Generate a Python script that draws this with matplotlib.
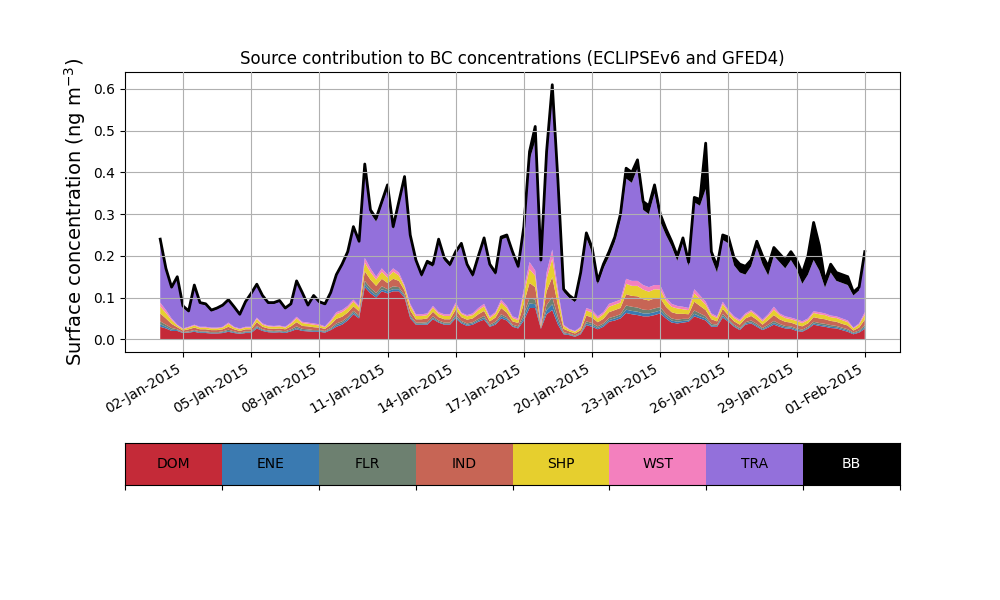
import numpy as np
import pandas as pd
import matplotlib
matplotlib.use('Agg')
import matplotlib.pyplot as plt
import matplotlib.dates as mdates

# 6-hourly time steps, 1 Jan 2015 00:00 -> 1 Feb 2015 00:00
times = pd.date_range('2015-01-01 00:00', periods=125, freq='6h')

# contributions, in 1e-3 ng m-3
DOM = [30, 26, 20, 20, 15, 16, 18, 15, 15, 14,
       14, 15, 18, 15, 13, 15, 15, 26, 20, 17,
       16, 17, 15, 19, 24, 20, 19, 18, 18, 16,
       22, 30, 35, 45, 60, 50, 125, 110, 100, 115,
       110, 115, 115, 100, 50, 35, 35, 35, 48, 40,
       35, 35, 50, 38, 32, 35, 42, 47, 30, 35,
       50, 45, 30, 26, 45, 75, 75, 25, 60, 70,
       35, 12, 10, 6, 12, 34, 30, 24, 30, 42,
       45, 50, 63, 60, 58, 55, 55, 58, 62, 50,
       40, 38, 40, 42, 55, 50, 45, 30, 30, 52,
       42, 30, 22, 35, 38, 30, 22, 28, 35, 30,
       26, 25, 20, 18, 25, 35, 32, 30, 27, 26,
       22, 18, 12, 16, 25]
ENE = [6, 4, 3, 2, 1, 1, 2, 2, 2, 1,
       1, 2, 2, 2, 1, 2, 2, 3, 2, 2,
       2, 2, 2, 2, 3, 2, 2, 2, 2, 2,
       2, 4, 4, 4, 4, 3, 7, 6, 5, 5,
       5, 5, 5, 3, 4, 2, 2, 3, 3, 2,
       2, 2, 4, 3, 3, 3, 3, 4, 2, 3,
       5, 4, 2, 2, 7, 11, 9, 1, 10, 14,
       8, 2, 2, 1, 2, 4, 4, 3, 4, 4,
       5, 5, 8, 8, 8, 7, 7, 7, 7, 5,
       5, 4, 4, 3, 6, 5, 5, 3, 2, 4,
       3, 2, 2, 3, 3, 3, 2, 3, 4, 3,
       3, 3, 3, 2, 2, 3, 3, 3, 3, 3,
       3, 3, 2, 2, 4]
FLR = [7, 5, 4, 2, 1, 2, 2, 2, 2, 2,
       2, 2, 3, 2, 2, 2, 2, 3, 2, 2,
       2, 2, 2, 3, 4, 3, 3, 2, 2, 2,
       3, 4, 4, 4, 4, 4, 8, 7, 6, 7,
       5, 7, 5, 4, 4, 3, 3, 3, 4, 3,
       3, 3, 5, 3, 3, 3, 4, 5, 3, 4,
       5, 4, 3, 3, 9, 13, 11, 1, 12, 17,
       10, 3, 2, 2, 2, 5, 5, 4, 4, 5,
       5, 5, 10, 10, 10, 9, 8, 9, 8, 6,
       5, 5, 5, 4, 8, 7, 5, 4, 3, 5,
       3, 3, 3, 3, 4, 4, 3, 4, 5, 4,
       3, 3, 3, 3, 3, 4, 4, 4, 4, 3,
       3, 3, 2, 3, 5]
IND = [19, 15, 10, 5, 4, 5, 6, 5, 5, 5,
       5, 5, 7, 5, 4, 5, 5, 9, 6, 5,
       5, 5, 5, 7, 10, 7, 7, 7, 6, 5,
       8, 11, 11, 11, 11, 10, 23, 20, 17, 18,
       15, 18, 15, 10, 11, 8, 8, 9, 11, 8,
       8, 8, 12, 9, 9, 9, 11, 12, 8, 10,
       15, 11, 8, 8, 25, 36, 30, 3, 33, 48,
       28, 8, 5, 5, 6, 14, 13, 10, 11, 14,
       15, 15, 27, 26, 27, 25, 23, 24, 22, 17,
       15, 14, 12, 11, 21, 18, 15, 11, 8, 12,
       9, 8, 8, 9, 11, 10, 8, 11, 14, 11,
       10, 9, 9, 8, 8, 11, 11, 11, 10, 10,
       9, 9, 5, 7, 13]
SHP = [17, 13, 9, 4, 3, 4, 5, 4, 4, 4,
       4, 4, 7, 4, 4, 4, 4, 8, 5, 5,
       5, 5, 4, 6, 9, 7, 6, 6, 5, 4,
       7, 11, 11, 11, 11, 9, 21, 18, 15, 17,
       13, 17, 13, 9, 11, 8, 8, 8, 10, 8,
       8, 8, 11, 8, 8, 8, 10, 11, 8, 9,
       13, 11, 8, 7, 23, 33, 27, 3, 30, 44,
       26, 7, 4, 4, 5, 12, 12, 9, 11, 13,
       13, 13, 25, 24, 25, 23, 21, 22, 20, 15,
       13, 13, 11, 10, 20, 17, 13, 10, 8, 11,
       9, 8, 8, 8, 10, 9, 8, 10, 13, 10,
       9, 8, 9, 8, 8, 10, 10, 10, 9, 9,
       9, 8, 5, 7, 12]
WST = [9, 7, 4, 2, 2, 2, 2, 2, 2, 2,
       2, 2, 3, 2, 2, 2, 2, 3, 3, 2,
       2, 2, 2, 3, 4, 3, 3, 3, 3, 2,
       4, 5, 5, 5, 5, 4, 11, 9, 7, 8,
       7, 8, 7, 4, 5, 4, 4, 4, 4, 4,
       4, 4, 6, 3, 3, 4, 5, 6, 4, 4,
       7, 5, 4, 4, 11, 17, 13, 2, 15, 22,
       13, 3, 2, 2, 3, 6, 6, 5, 5, 7,
       7, 7, 12, 12, 12, 11, 11, 10, 11, 7,
       7, 6, 6, 5, 10, 8, 7, 4, 4, 6,
       4, 4, 4, 4, 4, 4, 4, 4, 7, 4,
       4, 4, 4, 4, 4, 4, 5, 4, 4, 4,
       4, 4, 2, 3, 6]
TRA = [148, 97, 72, 112, 51, 35, 92, 55, 52, 39,
       44, 49, 52, 45, 31, 57, 77, 77, 64, 52,
       53, 57, 42, 42, 83, 67, 39, 64, 51, 51,
       63, 87, 105, 125, 170, 150, 213, 132, 132, 152,
       205, 94, 162, 250, 159, 124, 89, 119, 94, 169,
       129, 114, 116, 160, 116, 87, 119, 152, 119, 89,
       144, 164, 149, 119, 140, 245, 310, 145, 270, 365,
       240, 79, 74, 69, 120, 168, 138, 77, 105, 113,
       143, 190, 240, 235, 270, 180, 175, 220, 152, 150,
       138, 108, 153, 100, 208, 215, 270, 133, 105, 148,
       160, 122, 113, 93, 105, 160, 133, 93, 122, 123,
       115, 138, 120, 90, 105, 123, 100, 62, 103, 85,
       85, 85, 77, 79, 137]
BB = [4, 3, 3, 3, 3, 3, 3, 3, 3, 3,
      3, 3, 3, 3, 3, 3, 3, 3, 3, 3,
      3, 3, 3, 3, 3, 3, 3, 3, 3, 3,
      3, 3, 5, 5, 5, 5, 12, 8, 8, 8,
      10, 6, 8, 10, 6, 6, 6, 6, 6, 6,
      6, 6, 6, 6, 6, 6, 6, 6, 6, 6,
      6, 6, 6, 6, 10, 20, 35, 10, 20, 30,
      20, 6, 6, 6, 10, 12, 12, 8, 10, 12,
      12, 15, 25, 25, 20, 20, 20, 20, 18, 15,
      12, 12, 12, 10, 12, 15, 110, 15, 15, 12,
      15, 18, 20, 20, 15, 15, 20, 22, 20, 20,
      20, 20, 22, 25, 45, 90, 60, 15, 20, 20,
      20, 20, 8, 8, 8]

sources = ['DOM', 'ENE', 'FLR', 'IND', 'SHP', 'WST', 'TRA', 'BB']
colors = ['#c42a38', '#3a7ab1', '#6d8070', '#c76555', '#e6cf2e', '#f380be', '#9370db', '#000000']

layers = np.array([DOM, ENE, FLR, IND, SHP, WST, TRA, BB]) / 1000.
total = layers.sum(axis=0)

fig = plt.figure(figsize=(10, 6), dpi=100)
ax = fig.add_axes([0.125, 0.4133, 0.775, 0.4667])
ax.stackplot(times, layers, colors=colors, lw=0)
ax.plot(times, total, c='k', lw=2)

t0 = mdates.date2num(times[0])
t1 = mdates.date2num(times[-1])
pad = 0.05 * (t1 - t0)
ax.set_xlim(t0 - pad, t1 + pad)
ax.set_ylim(-0.0305, 0.6405)

ax.set_xticks(pd.date_range('2015-01-02', '2015-02-01', freq='3D'))
ax.xaxis.set_major_formatter(mdates.DateFormatter('%d-%b-%Y'))
plt.setp(ax.get_xticklabels(), rotation=30, ha='right')
ax.set_yticks(np.arange(0, 0.61, 0.1))
ax.grid(True)
ax.set_axisbelow(False)
ax.set_ylabel('Surface concentration (ng m$^{-3}$)', fontsize=14)
ax.set_title('Source contribution to BC concentrations (ECLIPSEv6 and GFED4)', fontsize=12)

# colour key underneath
lax = fig.add_axes([0.125, 0.1917, 0.775, 0.07])
for i, (s, c) in enumerate(zip(sources, colors)):
    lax.axvspan(i, i + 1, color=c, lw=0)
    lax.text(i + 0.5, 0.5, s, ha='center', va='center', fontsize=10,
             color='white' if s == 'BB' else 'black')
lax.set_xlim(0, len(sources))
lax.set_ylim(0, 1)
lax.set_xticks(range(len(sources) + 1))
lax.set_xticklabels([])
lax.set_yticks([])

fig.savefig('out.png', dpi=100)
